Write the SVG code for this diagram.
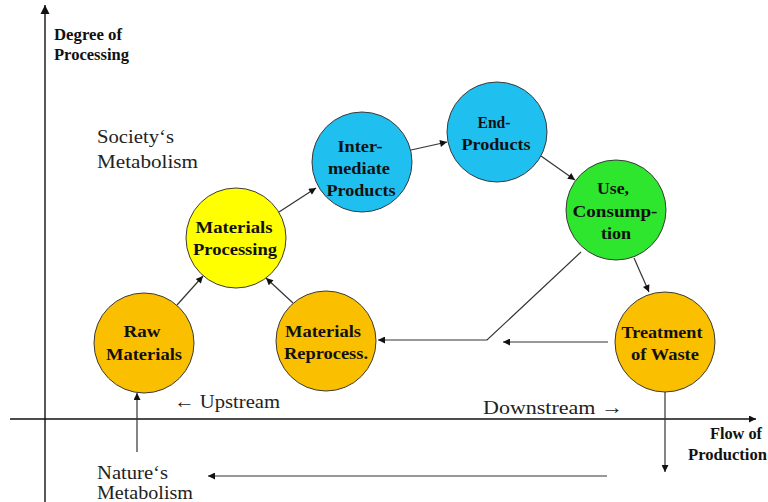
<svg xmlns="http://www.w3.org/2000/svg" width="768" height="502" viewBox="0 0 768 502">
<style>
text{font-family:"Liberation Serif","DejaVu Serif",serif}
.node circle{stroke:#3a3a3a;stroke-width:1}
.lbl{font-weight:bold;font-size:17px;text-anchor:middle;fill:#111}
.ax{font-weight:bold;font-size:16px;fill:#111}
.reg{font-size:19.5px;fill:#222}
.con{stroke:#333;stroke-width:1.2;fill:none}
.axis{stroke:#111;stroke-width:1.4;fill:none}
</style>
<defs>
<marker id="ah" viewBox="0 0 10 10" refX="10" refY="5" markerWidth="9" markerHeight="7" orient="auto" markerUnits="userSpaceOnUse"><path d="M0,0 L10,5 L0,10 z" fill="#111"/></marker>
<marker id="axh" viewBox="0 0 10 10" refX="10" refY="5" markerWidth="9" markerHeight="12" orient="auto" markerUnits="userSpaceOnUse"><path d="M0,0 L10,5 L0,10 z" fill="#111"/></marker>
</defs>
<rect width="768" height="502" fill="#fff"/>
<g id="axes">
<path class="axis" d="M45,502 V5" marker-end="url(#axh)"/>
<path class="axis" d="M10,419 H756" marker-end="url(#ah)"/>
</g>
<g id="connectors">
<path class="con" d="M177,305 L203,276" marker-end="url(#ah)"/>
<path class="con" d="M293,303 L266,278" marker-end="url(#ah)"/>
<path class="con" d="M279,212 L316,188" marker-end="url(#ah)"/>
<path class="con" d="M411,150 L447,142" marker-end="url(#ah)"/>
<path class="con" d="M541,156 L575,180" marker-end="url(#ah)"/>
<path class="con" d="M634,258 L649,292" marker-end="url(#ah)"/>
<path class="con" d="M581,252 L487,340 H378" marker-end="url(#ah)"/>
<path class="con" d="M608,342 H503" marker-end="url(#ah)"/>
<path class="con" d="M665,392 V472" marker-end="url(#ah)"/>
<path class="con" d="M607,476 H208" marker-end="url(#ah)"/>
<path class="con" d="M137,452 V393" marker-end="url(#ah)"/>
</g>
<g id="raw" class="node"><circle cx="144" cy="343" r="50" fill="#FAC000"/><text class="lbl" x="142" y="337" textLength="37" lengthAdjust="spacingAndGlyphs">Raw</text><text class="lbl" x="144" y="360" textLength="76" lengthAdjust="spacingAndGlyphs">Materials</text></g>
<g id="processing" class="node"><circle cx="236" cy="238" r="50" fill="#FFFF00"/><text class="lbl" x="234" y="233" textLength="77" lengthAdjust="spacingAndGlyphs">Materials</text><text class="lbl" x="235" y="255" textLength="84" lengthAdjust="spacingAndGlyphs">Processing</text></g>
<g id="intermediate" class="node"><circle cx="362" cy="162" r="50" fill="#1FBFEF"/><text class="lbl" x="360" y="152" textLength="45" lengthAdjust="spacingAndGlyphs">Inter-</text><text class="lbl" x="359" y="174" textLength="62" lengthAdjust="spacingAndGlyphs">mediate</text><text class="lbl" x="361" y="196" textLength="69" lengthAdjust="spacingAndGlyphs">Products</text></g>
<g id="end" class="node"><circle cx="497" cy="132" r="50" fill="#1FBFEF"/><text class="lbl" x="494" y="128" textLength="33" lengthAdjust="spacingAndGlyphs">End-</text><text class="lbl" x="496" y="150" textLength="69" lengthAdjust="spacingAndGlyphs">Products</text></g>
<g id="use" class="node"><circle cx="616" cy="210" r="50" fill="#2EE62E"/><text class="lbl" x="613" y="194" textLength="32" lengthAdjust="spacingAndGlyphs">Use,</text><text class="lbl" x="615" y="217" textLength="85" lengthAdjust="spacingAndGlyphs">Consump-</text><text class="lbl" x="616" y="239" textLength="30" lengthAdjust="spacingAndGlyphs">tion</text></g>
<g id="reprocess" class="node"><circle cx="326" cy="341" r="50" fill="#FAC000"/><text class="lbl" x="323" y="337" textLength="76" lengthAdjust="spacingAndGlyphs">Materials</text><text class="lbl" x="326" y="359" textLength="84" lengthAdjust="spacingAndGlyphs">Reprocess.</text></g>
<g id="treatment" class="node"><circle cx="665" cy="342" r="50" fill="#FAC000"/><text class="lbl" x="662" y="338" textLength="81" lengthAdjust="spacingAndGlyphs">Treatment</text><text class="lbl" x="665" y="360" textLength="68" lengthAdjust="spacingAndGlyphs">of Waste</text></g>
<g id="labels">
<text class="ax" x="54" y="40" textLength="68" lengthAdjust="spacingAndGlyphs">Degree of</text>
<text class="ax" x="54" y="60" textLength="75" lengthAdjust="spacingAndGlyphs">Processing</text>
<text class="ax" x="710" y="439" textLength="52" lengthAdjust="spacingAndGlyphs">Flow of</text>
<text class="ax" x="688" y="460" textLength="79" lengthAdjust="spacingAndGlyphs">Production</text>
<text class="reg" x="97" y="143" textLength="77" lengthAdjust="spacingAndGlyphs">Society‘s</text>
<text class="reg" x="97" y="168" textLength="101" lengthAdjust="spacingAndGlyphs">Metabolism</text>
<text class="reg" x="97" y="479" font-size="18.5" textLength="71" lengthAdjust="spacingAndGlyphs">Nature‘s</text>
<text class="reg" x="97" y="499" font-size="18.5" textLength="96" lengthAdjust="spacingAndGlyphs">Metabolism</text>
<text class="reg" x="174" y="408" textLength="106" lengthAdjust="spacingAndGlyphs">← Upstream</text>
<text class="reg" x="483" y="414" textLength="140" lengthAdjust="spacingAndGlyphs">Downstream →</text>
</g>
</svg>
